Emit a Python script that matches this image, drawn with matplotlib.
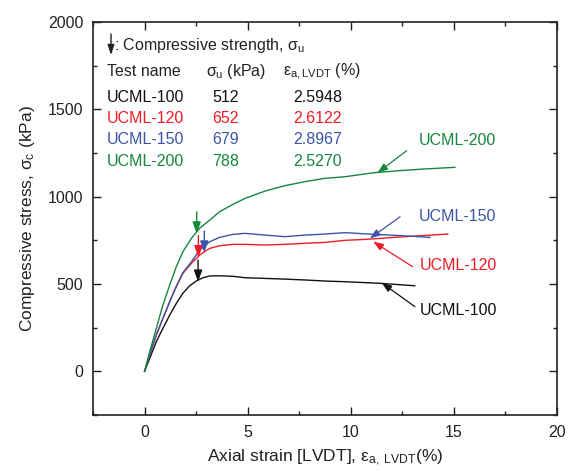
import matplotlib
matplotlib.use("Agg")
import matplotlib.pyplot as plt
from matplotlib.ticker import MultipleLocator

plt.rcParams['font.family'] = ['Liberation Sans', 'DejaVu Sans']
plt.rcParams['mathtext.fontset'] = 'custom'
plt.rcParams['mathtext.rm'] = 'Liberation Sans'
plt.rcParams['mathtext.it'] = 'Liberation Sans'
plt.rcParams['mathtext.sf'] = 'Liberation Sans'

# ---- data ----
names = ["UCML-100", "UCML-120", "UCML-150", "UCML-200"]
colors = ["#111111", "#EE1C25", "#3B55A6", "#16873D"]
sigma_u = [512, 652, 679, 788]
eps_u = [2.5948, 2.6122, 2.8967, 2.5270]

x100 = [0, 0.25, 0.57, 0.89, 1.22, 1.54, 1.86, 2.19, 2.51, 2.83, 3.16, 3.64, 4.29,
        4.87, 5.84, 6.81, 7.78, 8.75, 9.72, 11.42, 13.1]
y100 = [0, 74, 170, 246, 322, 389, 447, 490, 517, 536, 546, 547, 544,
        536, 532, 528, 523, 517, 513, 504, 490]

x120 = [0, 0.25, 0.57, 0.89, 1.22, 1.54, 1.86, 2.27, 2.67, 3.16, 3.64, 4.29,
        4.87, 5.84, 6.81, 7.78, 8.75, 9.72, 10.8, 12.5, 14.7]
y120 = [0, 97, 208, 303, 399, 485, 561, 618, 666, 704, 719, 727,
        727, 723, 727, 733, 738, 750, 756, 770, 786]

x150 = [0, 0.25, 0.57, 0.89, 1.22, 1.54, 1.86, 2.27, 2.67, 3.16, 3.64, 4.29,
        4.87, 5.84, 6.81, 7.78, 8.75, 9.72, 11.0, 11.9, 13.0, 13.84]
y150 = [0, 97, 208, 303, 399, 487, 565, 627, 694, 742, 767, 784,
        790, 780, 771, 780, 786, 794, 785, 780, 773, 767]

x200 = [0, 0.25, 0.57, 0.89, 1.22, 1.54, 1.86, 2.27, 2.67, 3.16, 3.64, 4.29,
        4.87, 5.84, 6.81, 7.78, 8.75, 9.72, 11.1, 12.5, 13.5, 15.05]
y200 = [0, 112, 246, 380, 494, 599, 685, 761, 819, 866, 914, 956,
        990, 1032, 1063, 1086, 1105, 1114, 1137, 1150, 1158, 1168]

curves = [(x100, y100), (x120, y120), (x150, y150), (x200, y200)]

# label positions (text) and arrow targets on curves
label_xy = [(13.35, 350), (13.35, 608), (13.3, 889), (13.3, 1322)]
arrow_start = [(13.11, 370), (13.0, 599), (12.39, 885), (12.71, 1263)]
arrow_end = [(11.5, 507), (11.09, 742), (10.93, 761), (11.3, 1137)]

fig = plt.figure(figsize=(5.72, 4.75), dpi=100)
ax = fig.add_axes([93/572, 60/475, 464/572, 393/475])

for (xs, ys), c in zip(curves, colors):
    ax.plot(xs, ys, color=c, lw=1.0)

# peak arrows
for su, eu, c in zip(sigma_u, eps_u, colors):
    ax.annotate("", xy=(eu, su), xytext=(eu, su + 125),
                arrowprops=dict(arrowstyle="-|>,head_length=0.7,head_width=0.25",
                                color=c, lw=1.0, shrinkA=0, shrinkB=0))

# label arrows
for nm, c, lxy, s, e in zip(names, colors, label_xy, arrow_start, arrow_end):
    ax.text(lxy[0], lxy[1], nm, color=c, fontsize=11.5, ha='left', va='center')
    ax.annotate("", xy=e, xytext=s,
                arrowprops=dict(arrowstyle="-|>,head_length=0.6,head_width=0.22",
                                color=c, lw=0.9, shrinkA=0, shrinkB=0))

ax.set_xlim(-2.5, 20)
ax.set_ylim(-250, 2000)
ax.xaxis.set_major_locator(MultipleLocator(5))
ax.xaxis.set_minor_locator(MultipleLocator(2.5))
ax.yaxis.set_major_locator(MultipleLocator(500))
ax.yaxis.set_minor_locator(MultipleLocator(250))
ax.tick_params(which='both', direction='in', top=True, right=True, labelsize=11.5,
               width=1.0, colors='#222222')
ax.tick_params(which='major', length=6, pad=7)
ax.tick_params(which='minor', length=3)
for sp in ax.spines.values():
    sp.set_linewidth(1.2)
    sp.set_color('#222222')

ax.set_xlabel(r"Axial strain [LVDT], $\varepsilon_{\mathrm{a,\ LVDT}}$(%)", fontsize=12.5,
              color='#222222', labelpad=6)
ax.set_ylabel(r"Compressive stress, $\sigma_{\mathrm{c}}$ (kPa)", fontsize=12.5,
              color='#222222', labelpad=8)

# table text (pixel -> axes fraction)
def fx(px):
    return (px - 93) / 464
def fy(py):
    return (415 - py) / 393

tr = ax.transAxes
ax.annotate("", xy=(fx(111), fy(55)), xytext=(fx(111), fy(34)), xycoords=tr, textcoords=tr,
            arrowprops=dict(arrowstyle="-|>,head_length=0.6,head_width=0.2",
                            color='#222222', lw=1.0, shrinkA=0, shrinkB=0))
ax.text(fx(114), fy(50), r": Compressive strength, $\sigma_{\mathrm{u}}$", transform=tr,
        fontsize=11.5, color='#222222', va='baseline', ha='left')
ax.text(fx(107), fy(76), "Test name", transform=tr, fontsize=11.5, color='#222222',
        va='baseline', ha='left')
ax.text(fx(206), fy(76), r"$\sigma_{\mathrm{u}}$ (kPa)", transform=tr, fontsize=11.5,
        color='#222222', va='baseline', ha='left')
ax.text(fx(283), fy(76), r"$\varepsilon_{\mathrm{a,LVDT}}$ (%)", transform=tr, fontsize=11.5,
        color='#222222', va='baseline', ha='left')

rows_y = [102, 123, 144, 166]
for nm, c, su, eu, ry in zip(names, colors, sigma_u, eps_u, rows_y):
    ax.text(fx(107), fy(ry), nm, transform=tr, fontsize=11.5, color=c, va='baseline', ha='left')
    ax.text(fx(212), fy(ry), f"{su}", transform=tr, fontsize=11.5, color=c, va='baseline', ha='left')
    ax.text(fx(293), fy(ry), f"{eu:.4f}", transform=tr, fontsize=11.5, color=c, va='baseline', ha='left')

fig.savefig("out.png", dpi=100)
